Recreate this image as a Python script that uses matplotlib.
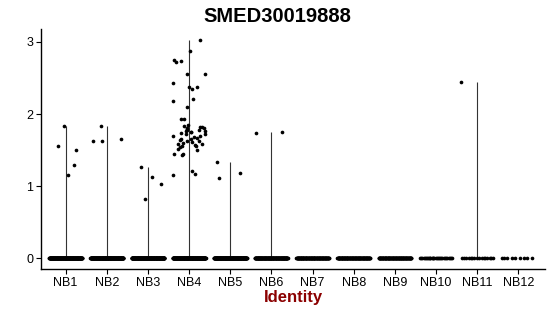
import numpy as np
import matplotlib
matplotlib.use("Agg")
import matplotlib.pyplot as plt

plt.rcParams['font.family'] = ['Liberation Sans', 'DejaVu Sans']

categories = ["NB1", "NB2", "NB3", "NB4", "NB5", "NB6", "NB7", "NB8", "NB9", "NB10", "NB11", "NB12"]
zero_counts = [220, 220, 220, 220, 220, 160, 120, 120, 110, 30, 16, 9]
nonzero_values = {
    "NB1": [1.29, 1.15, 1.84, 1.55, 1.50],
    "NB2": [1.62, 1.62, 1.84, 1.65],
    "NB3": [0.82, 1.26, 1.03, 1.13],
    "NB4": [3.03, 2.87, 2.75, 2.72, 2.73, 2.55, 2.55, 2.43, 2.38, 2.35, 2.37, 2.21,
            2.18, 2.10, 1.93, 1.93, 1.85, 1.83, 1.82, 1.82, 1.81, 1.80, 1.79, 1.78,
            1.78, 1.77, 1.76, 1.75, 1.75, 1.74, 1.73, 1.72, 1.70, 1.69, 1.68, 1.67,
            1.66, 1.65, 1.64, 1.63, 1.62, 1.61, 1.60, 1.59, 1.58, 1.57, 1.56, 1.55,
            1.54, 1.52, 1.50, 1.45, 1.44, 1.43, 1.21, 1.15, 1.17],
    "NB5": [1.11, 1.33, 1.18],
    "NB6": [1.75, 1.74],
    "NB7": [], "NB8": [], "NB9": [], "NB10": [],
    "NB11": [2.44],
    "NB12": [],
}
title = "SMED30019888"
xlabel = "Identity"


def hashjit(k, seed):
    # deterministic scatter offsets in [-0.4, 0.4]
    v = np.sin((k + 1) * 12.9898 + seed * 78.233) * 43758.5453
    return ((v - np.floor(v)) - 0.5) * 0.8


fig = plt.figure(figsize=(5.5, 3.16), dpi=100)
ax = fig.add_axes([41/550, 1-269/316, (545-41)/550, (269-29)/316])

phi = 0.6180339887
for i, cat in enumerate(categories):
    vals = list(nonzero_values[cat])
    nzero = zero_counts[i]
    mx = max(vals) if vals else 0.0
    if mx > 0:
        ax.vlines(i, 0, mx, color='#333333', lw=0.8, zorder=1)
    k = np.arange(nzero)
    jz = (((k * phi + 0.37 * i) % 1.0) - 0.5) * 0.8
    ax.scatter(i + jz, np.zeros(nzero), s=7, color='black', linewidths=0, zorder=2)
    if vals:
        jn = hashjit(np.arange(len(vals)), i + 1)
        ax.scatter(i + jn, vals, s=7, color='black', linewidths=0, zorder=2)

ax.set_xlim(-0.6, 11.65)
ax.set_ylim(-0.15, 3.18)
ax.set_xticks(range(len(categories)))
ax.set_xticklabels(categories)
ax.set_yticks([0, 1, 2, 3])
ax.set_yticklabels(["0", "1", "2", "3"])
for s in ['top', 'right']:
    ax.spines[s].set_visible(False)
for s in ['left', 'bottom']:
    ax.spines[s].set_linewidth(1.0)
ax.tick_params(axis='both', length=3.5, width=0.8, labelsize=9, colors='black', pad=2)
ax.set_xlabel(xlabel, fontsize=12, fontweight='bold', color='#8B0000', labelpad=1)
fig.text(0.505, 0.948, title, ha='center', va='center', fontsize=14.5, fontweight='bold')

fig.savefig("out.png", dpi=100)
